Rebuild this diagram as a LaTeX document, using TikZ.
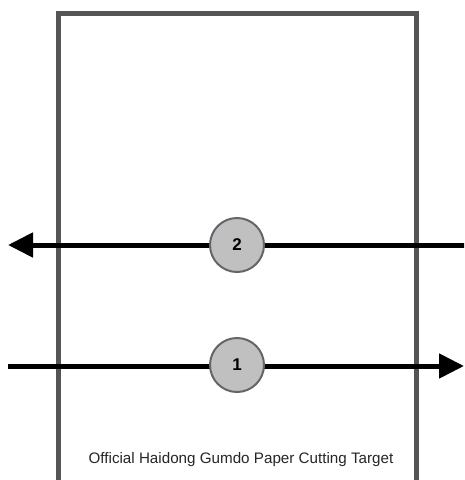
\documentclass[tikz,border=0pt]{standalone}
\usepackage{fontspec}
\setmainfont{Liberation Sans}
\usetikzlibrary{arrows.meta}
\definecolor{frame}{HTML}{555555}
\definecolor{discfill}{HTML}{C0C0C0}
\definecolor{discline}{HTML}{62666A}
\begin{document}
\begin{tikzpicture}[x=1pt,y=-1pt,
  disc/.style={circle,draw=discline,line width=2pt,fill=discfill,minimum size=54pt,inner sep=0pt,font=\fontsize{17}{17}\selectfont\bfseries},
  cutline/.style={line width=5pt,black,-{Triangle[length=25pt,width=24pt]}}]
\useasboundingbox (0,0) rectangle (464,480);
\clip (0,0) rectangle (464,480);
\fill[white] (0,0) rectangle (464,480);
\draw[frame,line width=5pt] (58,500) -- (58,13) -- (416,13) -- (416,500);
\coordinate (s2) at (466,245);
\coordinate (e2) at (8,245);
\coordinate (s1) at (8,366);
\coordinate (e1) at (464,366);
\draw[cutline] (s2) -- (e2);
\draw[cutline] (s1) -- (e1);
\node[disc] (c2) at (237,245) {2};
\node[disc] (c1) at (237,365) {1};
\node[font=\fontsize{15.2}{15}\selectfont,text=black!85] (lbl) at (241,460) {Official Haidong Gumdo Paper Cutting Target};
\end{tikzpicture}
\end{document}
